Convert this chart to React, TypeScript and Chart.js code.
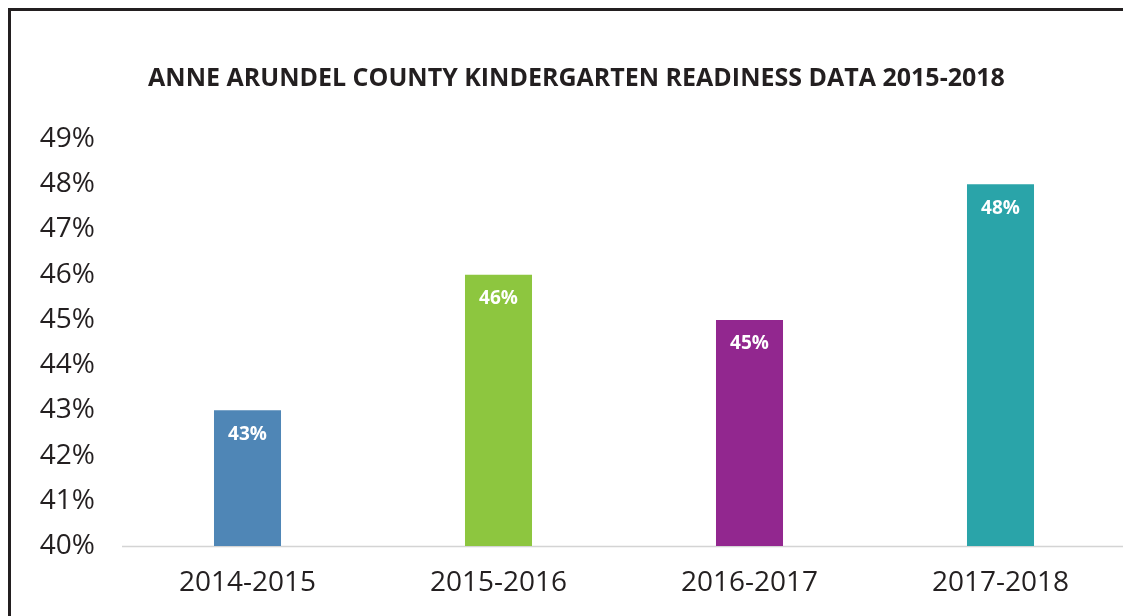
import React, { useEffect, useRef } from "react";
import { Chart, registerables } from "chart.js";

Chart.register(...registerables);

const TITLE = "ANNE ARUNDEL COUNTY KINDERGARTEN READINESS DATA 2015-2018";
const categories = ["2014-2015", "2015-2016", "2016-2017", "2017-2018"];
const readiness = [43, 46, 45, 48];
const barColors = ["#4f86b6", "#8dc63f", "#92278f", "#2aa4a9"];
const yMin = 40;
const yMax = 49;

const TEXT = "#231f20";

const valueLabels = {
  id: "valueLabels",
  afterDatasetsDraw(chart: any) {
    const { ctx } = chart;
    const meta = chart.getDatasetMeta(0);
    ctx.save();
    ctx.fillStyle = "#ffffff";
    ctx.font = "bold 19px 'Open Sans'";
    ctx.textAlign = "center";
    ctx.textBaseline = "middle";
    meta.data.forEach((bar: any, i: number) => {
      ctx.fillText(readiness[i] + "%", bar.x, bar.y + 24);
    });
    ctx.restore();
  },
};

const centeredTitle = {
  id: "centeredTitle",
  afterDraw(chart: any) {
    const { ctx } = chart;
    ctx.save();
    ctx.fillStyle = TEXT;
    ctx.font = "bold 25px 'Open Sans'";
    ctx.textAlign = "center";
    ctx.textBaseline = "middle";
    ctx.fillText(TITLE, 568.5, 71);
    ctx.restore();
  },
};

const baseline = {
  id: "baseline",
  beforeDatasetsDraw(chart: any) {
    const { ctx, chartArea } = chart;
    ctx.save();
    ctx.strokeStyle = "#d4d4d4";
    ctx.lineWidth = 1.5;
    ctx.beginPath();
    ctx.moveTo(chartArea.left, chartArea.bottom + 0.5);
    ctx.lineTo(chart.width, chartArea.bottom + 0.5);
    ctx.stroke();
    ctx.restore();
  },
};

export default function App() {
  const ref = useRef<HTMLCanvasElement>(null);
  useEffect(() => {
    if (!ref.current) return;
    const chart = new Chart(ref.current, {
      type: "bar",
      data: {
        labels: categories,
        datasets: [
          {
            data: readiness,
            backgroundColor: barColors,
            categoryPercentage: 1,
            barPercentage: 0.267,
          },
        ],
      },
      options: {
        animation: false,
        responsive: false,
        layout: { padding: { left: 0, right: 19, top: 131, bottom: 0 } },
        plugins: {
          legend: { display: false },
          tooltip: { enabled: false },
          title: { display: false },
        },
        scales: {
          x: {
            grid: { display: false, drawTicks: false },
            border: { display: false },
            afterFit: (s: any) => {
              s.height = 70;
            },
            ticks: {
              color: TEXT,
              font: { family: "'Open Sans'", size: 28 },
              padding: 20,
              maxRotation: 0,
            },
          },
          y: {
            min: yMin,
            max: yMax,
            grid: { display: false, drawTicks: false },
            border: { display: false },
            afterFit: (s: any) => {
              s.width = 114;
            },
            ticks: {
              stepSize: 1,
              color: TEXT,
              font: { family: "'Open Sans'", size: 28 },
              padding: 27,
              callback: (v: any) => v + "%",
            },
          },
        },
      },
      plugins: [baseline, valueLabels, centeredTitle],
    });
    return () => chart.destroy();
  }, []);

  return (
    <div style={{ position: "relative", width: 1123, height: 608, overflow: "hidden" }}>
      <div
        style={{
          position: "absolute",
          left: 0,
          top: 0,
          width: 1200,
          height: 700,
          borderTop: "3px solid #231f20",
          borderLeft: "3px solid #231f20",
        }}
      />
      <canvas
        ref={ref}
        width={1137}
        height={608}
        style={{ position: "absolute", left: 0, top: 0, width: 1137, height: 608 }}
      />
    </div>
  );
}
